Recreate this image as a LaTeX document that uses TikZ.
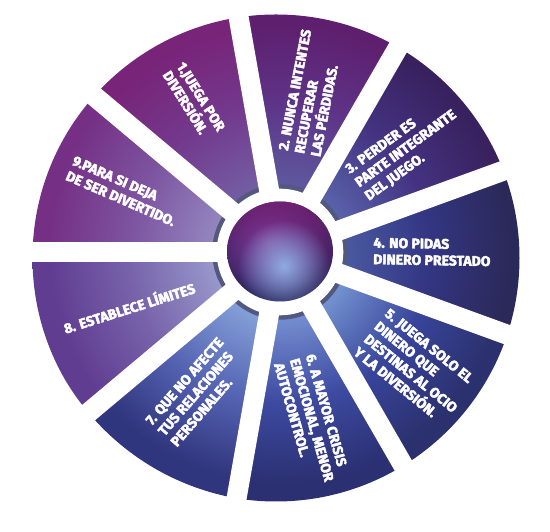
\documentclass[tikz,border=0pt]{standalone}
\usepackage{fontspec}
\newfontfamily\wheelfont{Fira Sans}[BoldFeatures={FakeBold=3}]
\usetikzlibrary{fadings}
\definecolor{ringcol}{RGB}{82,88,128}
\definecolor{sphmag}{RGB}{128,30,116}
\definecolor{glowcol}{RGB}{145,178,228}
\tikzfading[name=topfade, top color=transparent!20, middle color=transparent!90, bottom color=transparent!100]
\tikzfading[name=glowfade, inner color=transparent!5, outer color=transparent!100]
\newcommand\mkseg[4]{\pgfdeclareradialshading{#1}{\pgfpoint{0bp}{0bp}}{rgb(0bp)=(#2);rgb(6.5bp)=(#2);rgb(15bp)=(#3);rgb(23bp)=(#4);rgb(50bp)=(#4)}}
\mkseg{segA}{0.45,0.37,0.64}{0.45,0.22,0.55}{0.47,0.14,0.47}
\mkseg{segB}{0.37,0.35,0.62}{0.37,0.20,0.53}{0.37,0.12,0.43}
\mkseg{segC}{0.35,0.39,0.67}{0.27,0.20,0.51}{0.22,0.13,0.37}
\mkseg{segD}{0.29,0.35,0.63}{0.20,0.21,0.51}{0.17,0.16,0.35}
\mkseg{segE}{0.46,0.58,0.82}{0.22,0.27,0.61}{0.17,0.19,0.43}
\mkseg{segF}{0.46,0.56,0.82}{0.24,0.29,0.63}{0.17,0.19,0.45}
\mkseg{segG}{0.52,0.63,0.85}{0.33,0.39,0.70}{0.19,0.21,0.49}
\mkseg{segH}{0.60,0.60,0.80}{0.47,0.39,0.67}{0.38,0.24,0.57}
\mkseg{segI}{0.58,0.53,0.75}{0.49,0.33,0.63}{0.46,0.19,0.52}
\pgfdeclareradialshading{spherebase}{\pgfpoint{-5bp}{5bp}}{rgb(0bp)=(0.50,0.42,0.72);rgb(10bp)=(0.36,0.28,0.62);rgb(20bp)=(0.22,0.19,0.46);rgb(25bp)=(0.15,0.15,0.36);rgb(50bp)=(0.15,0.15,0.36)}
\begin{document}
\begin{tikzpicture}[x=1pt,y=1pt,
  txt/.style={font=\wheelfont\bfseries\fontsize{14}{16.5}\selectfont, text=white, align=left, inner sep=0pt},
  gapline/.style={white, line width=20pt},
  ringline/.style={draw=ringcol, line width=4.5pt}]
\useasboundingbox (0,0) rectangle (550,532);
\coordinate (G) at (280,280);
\coordinate (O) at (276,274);
\coordinate (S) at (280,280.5);
\foreach \a/\b/\s in {340/380/segD, 20/60/segC, 60/100/segB, 100/140/segA, 140/180/segI, 180/220/segH, 220/260/segG, 260/300/segF, 300/340/segE}{
  \begin{scope}
    \clip (G) -- ++(\a:400) arc[start angle=\a, end angle=\b, radius=400] -- cycle;
    \clip (O) circle (243.5);
    \shade[shading=\s] (G) circle (250);
  \end{scope}
}
\draw[ringline] (G) circle (65.5);
\fill[white] (G) circle (63.3);
\foreach \g in {20,60,...,340}
  \draw[gapline] (G) -- ++(\g:262);
\begin{scope}
  \clip (S) ellipse [x radius=53, y radius=50];
  \shade[shading=spherebase] (S) ellipse [x radius=53, y radius=50];
  \fill[sphmag, path fading=topfade] (S) ellipse [x radius=53, y radius=50];
  \fill[glowcol, path fading=glowfade] (284,266) circle (46);
\end{scope}
\node[txt, rotate=-58] (t1) at (194,431) {1.JUEGA POR\\DIVERSIÓN.};
\node[txt, rotate=79] (t2) at (311,439) {2. NUNCA INTENTES\\RECUPERAR\\LAS PÉRDIDAS.};
\node[txt, rotate=36] (t3) at (406,383) {3. PERDER ES\\PARTE INTEGRANTE\\DEL JUEGO.};
\node[txt, rotate=-1] (t4) at (432,280) {4. NO PIDAS\\DINERO PRESTADO};
\node[txt, rotate=-39] (t5) at (416,165) {5. JUEGA SOLO EL\\DINERO QUE\\DESTINAS AL OCIO\\Y LA DIVERSIÓN.};
\node[txt, rotate=-74] (t6) at (312,112) {6. A MAYOR CRISIS\\EMOCIONAL, MENOR\\AUTOCONTROL.};
\node[txt, rotate=49] (t7) at (197,140) {7. QUE NO AFECTE\\TUS RELACIONES\\PERSONALES.};
\node[txt, rotate=17.5] (t8) at (129,225) {8. ESTABLECE LÍMITES};
\node[txt, rotate=-23.5] (t9) at (124,341) {9.PARA SI DEJA\\DE SER DIVERTIDO.};
\end{tikzpicture}
\end{document}
